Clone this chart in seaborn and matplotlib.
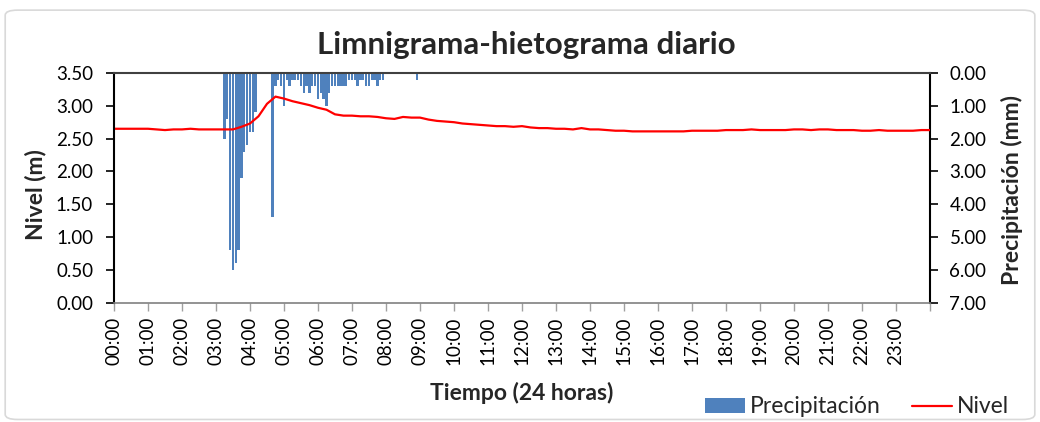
import numpy as np
import pandas as pd
import matplotlib
matplotlib.use("Agg")
import matplotlib.pyplot as plt
import seaborn as sns
from matplotlib.patches import FancyBboxPatch, Patch
from matplotlib.lines import Line2D

# water level (m), one reading every 15 min from 00:00 to 24:00
level_m = [
    2.65, 2.65, 2.65, 2.65,   # 00h
    2.65, 2.64, 2.63, 2.64,   # 01h
    2.64, 2.65, 2.64, 2.64,   # 02h
    2.64, 2.64, 2.64, 2.68,   # 03h
    2.73, 2.84, 3.03, 3.14,   # 04h
    3.11, 3.07, 3.04, 3.01,   # 05h
    2.97, 2.94, 2.87, 2.85,   # 06h
    2.85, 2.84, 2.84, 2.83,   # 07h
    2.81, 2.80, 2.83, 2.82,   # 08h
    2.82, 2.79, 2.77, 2.76,   # 09h
    2.75, 2.73, 2.72, 2.71,   # 10h
    2.70, 2.69, 2.69, 2.68,   # 11h
    2.69, 2.67, 2.66, 2.66,   # 12h
    2.65, 2.65, 2.64, 2.66,   # 13h
    2.64, 2.64, 2.63, 2.62,   # 14h
    2.62, 2.61, 2.61, 2.61,   # 15h
    2.61, 2.61, 2.61, 2.61,   # 16h
    2.62, 2.62, 2.62, 2.62,   # 17h
    2.63, 2.63, 2.63, 2.64,   # 18h
    2.63, 2.63, 2.63, 2.63,   # 19h
    2.64, 2.64, 2.63, 2.64,   # 20h
    2.64, 2.63, 2.63, 2.63,   # 21h
    2.62, 2.62, 2.63, 2.62,   # 22h
    2.62, 2.62, 2.62, 2.63,   # 23h
    2.63,                     # 24:00
]

# 5-min rainfall (mm): start of each rainy spell and the readings in it
burst_start = ["03:15", "04:40", "08:55"]
burst_mm = [
    [2.0, 1.4, 5.4, 6.0, 5.8, 5.4, 3.2, 2.4, 2.2, 1.8, 1.8, 1.2],
    [4.4, 0.4, 0.2, 0.4, 1.0, 0.2, 0.4, 0.2, 0.2, 0.2,
     0.4, 0.6, 0.4, 0.6, 0.4, 0.4, 0.8, 0.6, 0.8, 1.0,
     0.6, 0.4, 0.4, 0.4, 0.4, 0.4, 0.4, 0.2, 0.2, 0.2,
     0.4, 0.2, 0.2, 0.4, 0.4, 0.2, 0.2, 0.4, 0.2, 0.2],
    [0.2],
]

hour_labels = [f"{h:02d}:00" for h in range(24)]

BAR_COLOR = "#4F81BD"
LINE_COLOR = "#FF0000"


def to_hours(clock):
    h, m = clock.split(":")
    return int(h) + int(m) / 60


level = pd.DataFrame({"hora": np.arange(len(level_m)) * 0.25, "nivel": level_m})

rows = []
for start, vals in zip(burst_start, burst_mm):
    t0 = to_hours(start)
    for i, v in enumerate(vals):
        rows.append((round(t0 + i * 5 / 60, 4), v))
rain = pd.DataFrame(rows, columns=["hora", "precip"])

sns.set_theme(style="white")
plt.rcParams["font.family"] = ["Lato", "DejaVu Sans"]

fig = plt.figure(figsize=(10.4, 4.22), dpi=100)
ax = fig.add_axes([0.1096, 0.283, 0.7846, 0.544])
ax2 = ax.twinx()

sns.barplot(data=rain, x="hora", y="precip", native_scale=True, color=BAR_COLOR,
            saturation=1, width=0.82, linewidth=0, ax=ax2)
sns.lineplot(data=level, x="hora", y="nivel", color=LINE_COLOR, linewidth=1.6, ax=ax)

ax.set_zorder(ax2.get_zorder() + 1)
ax.patch.set_visible(False)

ax.set_xlim(0, 24)
ax.set_ylim(0, 3.5)
ax2.set_ylim(7, 0)
ax.set_yticks(np.arange(0, 3.51, 0.5))
ax2.set_yticks(range(8))
ax.yaxis.set_major_formatter(matplotlib.ticker.FormatStrFormatter("%.2f"))
ax2.yaxis.set_major_formatter(matplotlib.ticker.FormatStrFormatter("%.2f"))
ax.set_xticks(range(25))
ax.set_xticklabels(hour_labels + [""], rotation=90)
ax2.set_xlim(0, 24)

for a in (ax, ax2):
    a.set_xlabel("")
    a.set_ylabel("")
    a.grid(False)
    for s in a.spines.values():
        s.set_visible(False)

ax.spines["left"].set_visible(True)
ax.spines["left"].set_color("black")
ax.spines["left"].set_linewidth(1.5)
ax.spines["bottom"].set_visible(True)
ax.spines["bottom"].set_color("#808080")
ax.spines["bottom"].set_linewidth(1.2)
ax.spines["top"].set_visible(True)
ax.spines["top"].set_color("#404040")
ax.spines["top"].set_linewidth(1.5)
ax2.spines["right"].set_visible(True)
ax2.spines["right"].set_color("black")
ax2.spines["right"].set_linewidth(1.5)

ax.tick_params(axis="y", which="major", direction="out", length=6, width=1.2,
               color="black", labelsize=13.5, labelcolor="black", pad=9, left=True)
ax2.tick_params(axis="y", which="major", direction="out", length=6, width=1.2,
                color="black", labelsize=13.5, labelcolor="black", pad=8, right=True)
ax.tick_params(axis="x", which="major", direction="out", length=6, width=1,
               color="#A0A0A0", labelsize=13.5, labelcolor="black", pad=4, bottom=True)
ax2.tick_params(axis="x", bottom=False, labelbottom=False)

fig.text(0.506, 0.893, "Limnigrama-hietograma diario", ha="center", va="center",
         fontsize=22.5, fontweight="bold")
fig.text(0.502, 0.069, "Tiempo (24 horas)", ha="center", va="center",
         fontsize=16.5, fontweight="bold")
fig.text(0.034, 0.54, "Nivel (m)", ha="center", va="center", rotation=90,
         fontsize=16.5, fontweight="bold")
fig.text(0.973, 0.55, "Precipitación (mm)", ha="center", va="center", rotation=90,
         fontsize=16.5, fontweight="bold")

handles = [Patch(facecolor=BAR_COLOR, edgecolor="none"),
           Line2D([], [], color=LINE_COLOR, lw=1.6)]
fig.legend(handles, ["Precipitación", "Nivel"], loc="center",
           bbox_to_anchor=(0.824, 0.036), ncol=2, frameon=False,
           fontsize=16.5, handlelength=1.75, handleheight=0.6,
           columnspacing=1.4, handletextpad=0.2, borderpad=0, borderaxespad=0)

border = FancyBboxPatch((0.005, 0.006), 0.99, 0.97, transform=fig.transFigure,
                        boxstyle="round,pad=0,rounding_size=0.012",
                        facecolor="none", edgecolor="#D9D9D9", linewidth=1.2)
fig.patches.append(border)

fig.savefig("out.png", dpi=100)
